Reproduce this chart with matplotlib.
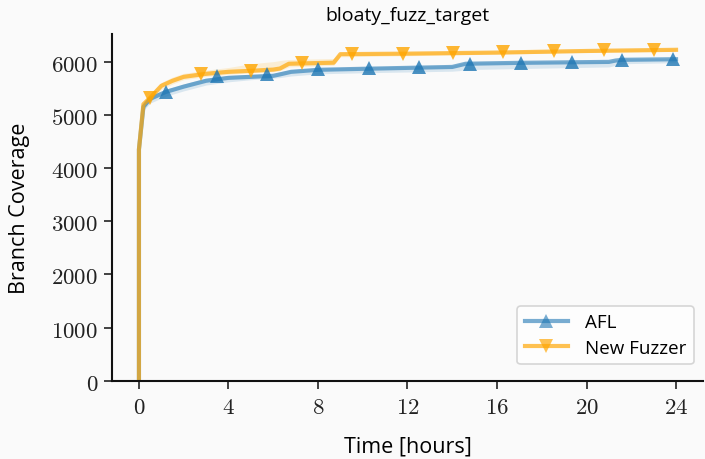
import matplotlib
matplotlib.use("Agg")
import matplotlib.pyplot as plt
import numpy as np

# ---- data ----
afl_t = [0, 0.0, 0.2, 0.5, 1.2, 2, 3, 4, 5, 6, 6.3, 6.8, 8, 10, 14, 14.3, 14.6, 17, 21, 21.3, 21.6, 24]
afl_v = [0, 4350, 5150, 5300, 5430, 5530, 5640, 5695, 5714, 5733, 5760, 5808, 5846, 5865, 5900, 5930, 5960, 5977, 5995, 6020, 6034, 6045]
afl_lo = [0, 4300, 5080, 5220, 5350, 5450, 5560, 5620, 5660, 5690, 5700, 5730, 5770, 5790, 5820, 5830, 5850, 5870, 5900, 5930, 5960, 5980]
afl_hi = [0, 4400, 5200, 5360, 5480, 5580, 5690, 5740, 5760, 5780, 5810, 5850, 5880, 5900, 5930, 5960, 5990, 6000, 6015, 6040, 6055, 6065]

nf_t = [0, 0.0, 0.2, 0.5, 1, 1.5, 2, 3, 4, 5, 6, 6.3, 6.7, 8.7, 9.0, 12, 16, 20, 24]
nf_v = [0, 4350, 5200, 5320, 5545, 5640, 5714, 5771, 5808, 5827, 5850, 5870, 5960, 5980, 6140, 6150, 6170, 6200, 6222]
nf_lo = [0, 4300, 5130, 5250, 5480, 5580, 5660, 5720, 5760, 5790, 5810, 5830, 5900, 5930, 6090, 6110, 6140, 6175, 6195]
nf_hi = [0, 4400, 5260, 5390, 5610, 5710, 5780, 5840, 5890, 5960, 6000, 6020, 6040, 6060, 6170, 6180, 6200, 6225, 6245]

afl_mt = [1.2, 3.47, 5.73, 8.0, 10.27, 12.53, 14.8, 17.07, 19.33, 21.6, 23.87]
afl_mv = [5432, 5725, 5765, 5855, 5880, 5905, 5960, 5980, 5995, 6034, 6045]
nf_mt = [0.49, 2.76, 5.02, 7.29, 9.51, 11.78, 14.04, 16.27, 18.53, 20.8, 23.02]
nf_mv = [5310, 5760, 5827, 5965, 6140, 6150, 6165, 6175, 6195, 6210, 6220]

series_names = ["AFL", "New Fuzzer"]
title = "bloaty_fuzz_target"
xticks = [0, 4, 8, 12, 16, 20, 24]
yticks = [0, 1000, 2000, 3000, 4000, 5000, 6000]

plt.rcParams['mathtext.fontset'] = 'cm'
plt.rcParams['font.family'] = ['Open Sans', 'DejaVu Sans']

bg = '#fafafa'
fig = plt.figure(figsize=(7.05, 4.6), dpi=100, facecolor=bg)
ax = fig.add_axes([0.159, 0.170, 0.838, 0.754], facecolor=bg)

blue = '#1f77b4'
orange = '#ffa500'
lw = 3.0
ms = 10.5

ax.fill_between(afl_t, afl_lo, afl_hi, color=blue, alpha=0.15, lw=0)
ax.fill_between(nf_t, nf_lo, nf_hi, color=orange, alpha=0.15, lw=0)
ax.plot(afl_t, afl_v, color=blue, lw=lw, alpha=0.6)
ax.plot(nf_t, nf_v, color=orange, lw=lw, alpha=0.68)
ax.plot(afl_mt, afl_mv, ls='none', marker='^', ms=ms, color=blue, alpha=0.8, mew=0)
ax.plot(nf_mt, nf_mv, ls='none', marker='v', ms=ms, color=orange, alpha=0.8, mew=0)

# legend proxies
h1, = ax.plot([], [], color=blue, lw=lw, alpha=0.6, marker='^', ms=ms, mfc=blue, mew=0)
h2, = ax.plot([], [], color=orange, lw=lw, alpha=0.68, marker='v', ms=ms, mfc=orange, mew=0)
leg = ax.legend([h1, h2], series_names, loc='lower right', fontsize=13.5,
                frameon=True, facecolor='white', edgecolor='#cccccc',
                bbox_to_anchor=(1.0, 0.02), borderpad=0.4, handlelength=2.3,
                labelspacing=0.4, handletextpad=0.9)
leg.get_frame().set_linewidth(1.2)

ax.set_xlim(-1.2, 25.2)
ax.set_ylim(0, 6520)
ax.set_xticks(xticks)
ax.set_xticklabels([f'${v}$' for v in xticks])
ax.set_yticks(yticks)
ax.set_yticklabels([f'${v}$' for v in yticks])
ax.tick_params(labelsize=16.5, length=6, width=1.2, colors='#222222', pad=4)
for s in ['top', 'right']:
    ax.spines[s].set_visible(False)
for s in ['left', 'bottom']:
    ax.spines[s].set_linewidth(1.5)
    ax.spines[s].set_color('#111111')

ax.set_title(title, fontsize=14, pad=10)
ax.set_xlabel('Time [hours]', fontsize=15.5, labelpad=12)
ax.set_ylabel('Branch Coverage', fontsize=15.5, labelpad=15)

fig.savefig('out.png', dpi=100, facecolor=bg)
